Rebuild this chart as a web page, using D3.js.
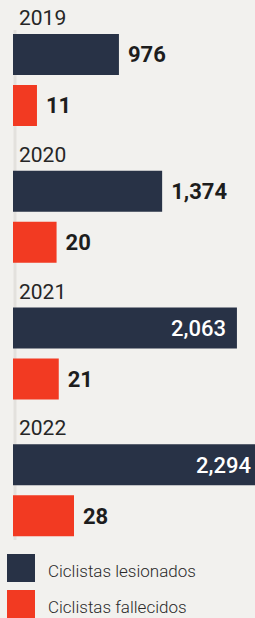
<!DOCTYPE html>
<html>
<head>
<meta charset="utf-8">
<script src="https://cdn.jsdelivr.net/npm/d3@7"></script>
<style>
  html, body { margin: 0; padding: 0; background: #f2f1ee; }
  svg { display: block; }
</style>
</head>
<body>
<div id="chart"></div>
<script>
// Ciclistas lesionados / fallecidos
var years = ['2019', '2020', '2021', '2022'];
var lesionados = [976, 1374, 2063, 2294];
var fallecidos = [11, 20, 21, 28];
var legendLabels = ['Ciclistas lesionados', 'Ciclistas fallecidos'];

var width = 255;
var height = 618;
var left = 13;
var barHeight = 41;
var navy = '#283246';
var red = '#f23a22';
var fontFamily = 'Roboto, "Open Sans", sans-serif';

var svg = d3.select('#chart')
  .append('svg')
  .attr('width', width)
  .attr('height', height);

svg.append('rect')
  .attr('width', width)
  .attr('height', height)
  .style('fill', '#f2f1ee');

// Two different scales, one per serie
var xLes = d3.scaleLinear()
  .domain([0, d3.max(lesionados)])
  .range([0, 249]);

var xFal = d3.scaleLinear()
  .domain([0, d3.max(fallecidos)])
  .range([0, 61]);

var y = d3.scaleBand()
  .domain(years)
  .range([0, 547]);

var fmt = d3.format(',');

// faint vertical rule
svg.append('line')
  .attr('x1', left + 2).attr('x2', left + 2)
  .attr('y1', 30).attr('y2', 540)
  .style('stroke', '#e3e1dd')
  .style('stroke-width', 3);

var groups = svg.selectAll('g.year')
  .data(years)
  .enter()
  .append('g')
  .attr('class', 'year')
  .attr('transform', function(d) { return 'translate(0,' + y(d) + ')'; });

groups.append('text')
  .attr('x', 19)
  .attr('y', 25)
  .style('font-family', fontFamily)
  .style('font-size', '21px')
  .style('fill', '#262626')
  .text(function(d) { return d; });

function drawBar(sel, values, scale, color, top) {
  sel.append('rect')
    .attr('x', left)
    .attr('y', top)
    .attr('width', function(d, i) { return scale(values[i]); })
    .attr('height', barHeight)
    .style('fill', color);

  sel.append('text')
    .attr('y', top + barHeight / 2)
    .attr('dy', '0.36em')
    .style('font-family', fontFamily)
    .style('font-size', '22px')
    .style('font-weight', 700)
    .each(function(d, i) {
      var end = left + scale(values[i]);
      var t = d3.select(this).text(fmt(values[i]));
      var w = this.getComputedTextLength();
      if (end + 9 + w > width) {
        t.attr('x', Math.min(end - 11, width - 4))
          .attr('text-anchor', 'end')
          .style('font-weight', 500)
          .style('fill', '#fff');
      } else {
        t.attr('x', end + 9)
          .style('fill', '#1d1d1d');
      }
    });
}

drawBar(groups, lesionados, xLes, navy, 34);
drawBar(groups, fallecidos, xFal, red, 85);

// Legend
var legend = svg.selectAll('g.legend')
  .data(legendLabels)
  .enter()
  .append('g')
  .attr('class', 'legend')
  .attr('transform', function(d, i) { return 'translate(7,' + (554 + i * 36) + ')'; });

legend.append('rect')
  .attr('width', 28)
  .attr('height', 28)
  .style('fill', function(d, i) { return i == 0 ? navy : red; });

legend.append('text')
  .attr('x', 41)
  .attr('y', 23)
  .style('font-family', fontFamily)
  .style('font-size', '17px')
  .style('font-weight', 300)
  .style('fill', '#2a2a2a')
  .text(function(d) { return d; });
</script>
</body>
</html>
